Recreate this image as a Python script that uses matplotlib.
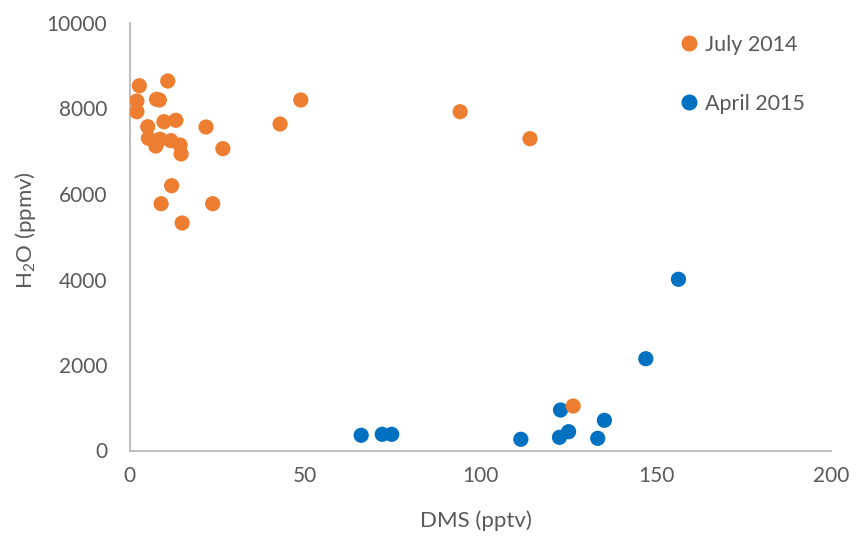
import matplotlib
matplotlib.use("Agg")
import matplotlib.pyplot as plt
from matplotlib.lines import Line2D

july_dms = [2.8, 10.9, 2.1, 7.7, 8.5, 2.1, 48.8, 42.9, 5.2, 9.8, 13.2, 21.8, 5.4, 7.5,
            8.7, 11.8, 14.4, 14.7, 26.6, 12.0, 9.0, 23.7, 15.0, 94.2, 114.1, 126.4]
july_h2o = [8533, 8643, 8175, 8215, 8199, 7925, 8199, 7637, 7574, 7691, 7724, 7567, 7303, 7123,
            7280, 7247, 7146, 6936, 7060, 6194, 5773, 5773, 5322, 7925, 7294, 1041]

april_dms = [66.0, 72.0, 74.7, 111.5, 122.8, 122.5, 125.1, 133.4, 135.3, 147.1, 156.4]
april_h2o = [356, 379, 379, 262, 947, 309, 440, 285, 706, 2147, 4005]

series_labels = ["July 2014", "April 2015"]
xticks = [0, 50, 100, 150, 200]
yticks = [0, 2000, 4000, 6000, 8000, 10000]

plt.rcParams['font.family'] = ['Lato', 'DejaVu Sans']
plt.rcParams['mathtext.fontset'] = 'custom'
plt.rcParams['mathtext.rm'] = 'Lato'
plt.rcParams['mathtext.it'] = 'Lato:italic'

orange = '#ED7D31'
blue = '#0070C0'
gray = '#595959'

fig = plt.figure(figsize=(8.56, 5.37), dpi=100)
ax = fig.add_axes([129.5/856, 1-450.5/537, (831.5-129.5)/856, (450.5-23)/537])

ax.scatter(april_dms, april_h2o, s=120, color=blue, edgecolors='none', zorder=3)
ax.scatter(july_dms, july_h2o, s=120, color=orange, edgecolors='none', zorder=4)

ax.set_xlim(0, 200)
ax.set_ylim(0, 10000)
ax.set_xticks(xticks)
ax.set_yticks(yticks)
ax.tick_params(length=0, colors=gray, labelsize=15)
ax.tick_params(axis='x', pad=11)
ax.tick_params(axis='y', pad=16)
for s in ['top', 'right']:
    ax.spines[s].set_visible(False)
for s in ['left', 'bottom']:
    ax.spines[s].set_color('#BFBFBF')
    ax.spines[s].set_linewidth(1.5)

fig.text(476/856, 1-521/537, "DMS (pptv)", ha='center', va='center', fontsize=16, color=gray)
fig.text(25/856, 1-230/537, "H$_2$O (ppmv)", ha='center', va='center', rotation=90,
         fontsize=16, color=gray)

handles = [Line2D([], [], marker='o', linestyle='none', color=orange, markersize=10.5),
           Line2D([], [], marker='o', linestyle='none', color=blue, markersize=10.5)]
leg = fig.legend(handles, series_labels, loc='upper left', bbox_to_anchor=(667/856, 1-26/537),
                 frameon=False, fontsize=15.5, labelspacing=1.83, handletextpad=0.15,
                 handlelength=1.2, borderaxespad=0)
for t in leg.get_texts():
    t.set_color(gray)

fig.savefig("out.png", dpi=100)
